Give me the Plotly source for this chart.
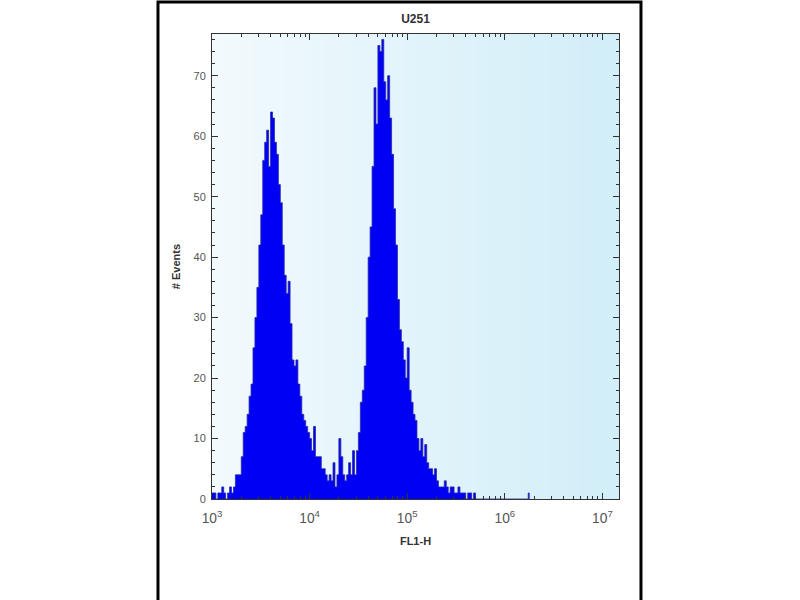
import numpy as np
import plotly.graph_objects as go

# histogram channels: log10(FL1-H) bins of 0.02 decade starting at 10^3
bin_start = 3.0
bin_width = 0.02
counts = [1, 1, 0, 1, 1, 2, 1, 0, 1, 2, 1, 2,
          4, 4, 4, 7, 11, 12, 14, 17, 19, 25, 30, 35, 42, 47, 56, 59, 61, 55,
          64, 63, 59, 57, 52, 49, 42, 37, 34, 36, 29, 23, 22, 23, 19, 17, 14, 13,
          12, 11, 10, 8, 12, 7, 7, 7, 5, 5, 4, 3, 4, 3, 6, 2, 4, 10, 7, 4, 3, 4,
          6, 4, 8, 4, 8, 11, 16, 18, 22, 30, 40, 45, 55, 68, 62, 75, 74, 76, 69,
          66, 70, 63, 57, 48, 42, 33, 28, 26, 23, 20, 25, 18, 16, 14, 13, 10, 8,
          10, 7, 9, 6, 5, 5, 4, 5, 3, 2, 2, 2, 3, 2, 1, 2, 2, 1, 1, 2, 1, 1, 1,
          0, 1, 1, 0, 1]
# a lone event far out
lone_log = [6.24]
lone_count = [1]

title = "U251"
x_title = "FL1-H"
y_title = "# Events"
x_range_log = [3.0, 7.17]
y_range = [0, 76.9]

edges = bin_start + bin_width * np.arange(len(counts) + 1)
xs = list(10 ** edges)
ys = counts + [0]
for lg, c in zip(lone_log, lone_count):
    xs += [10 ** lg, 10 ** lg, 10 ** (lg + bin_width / 2), 10 ** (lg + bin_width / 2)]
    ys += [0, c, c, 0]

fig = go.Figure()

# light blue gradient behind the plot
n_strips = 40
shapes = []
for k in range(n_strips):
    f = k / (n_strips - 1)
    r = int(242 - 32 * f)
    g = int(250 - 12 * f)
    b = int(253 - 4 * f)
    shapes.append(dict(type="rect", xref="paper", yref="paper",
                       x0=k / n_strips, x1=(k + 1) / n_strips + 0.002, y0=0, y1=1,
                       fillcolor=f"rgb({r},{g},{b})", line=dict(width=0), layer="below"))
# outer frame
shapes.append(dict(type="rect", xref="paper", yref="paper",
                   x0=-0.1327, x1=1.054, y0=-0.23, y1=1.069,
                   line=dict(color="black", width=3)))

fig.add_trace(go.Scatter(x=xs, y=ys, mode="lines", line_shape="hv",
                         fill="tozeroy", fillcolor="rgb(0,0,245)",
                         line=dict(color="rgb(40,40,170)", width=0.8),
                         showlegend=False, hoverinfo="skip"))

axis_font = dict(family="Arial, Liberation Sans, sans-serif", size=11, color="#555555")
fig.update_layout(
    width=800, height=600,
    margin=dict(l=212, r=181, t=34, b=101),
    paper_bgcolor="white",
    plot_bgcolor="rgba(0,0,0,0)",
    shapes=shapes,
    title=dict(text="<b>" + title + "</b>", x=0.5194, xanchor="center", y=0.968, yanchor="middle",
               font=dict(family="Arial, Liberation Sans, sans-serif", size=12, color="#333333")),
    xaxis=dict(type="log", range=x_range_log, dtick=1, exponentformat="power",
               showgrid=False, zeroline=False, showline=True, linecolor="#333333", linewidth=1,
               mirror="ticks", ticks="inside", ticklen=6, tickcolor="#333333",
               minor=dict(ticks="inside", ticklen=3, dtick="D1", tickcolor="#333333", showgrid=False),
               tickfont=axis_font, ticklabelstandoff=7,
               title=dict(text="<b>" + x_title + "</b>", standoff=12,
                          font=dict(family="Arial, Liberation Sans, sans-serif", size=11, color="#333333"))),
    yaxis=dict(range=y_range, dtick=10, showgrid=False, zeroline=False, showline=True,
               linecolor="#333333", linewidth=1, mirror="ticks", ticks="inside", ticklen=6,
               tickcolor="#333333",
               minor=dict(ticks="inside", ticklen=3, dtick=2, tickcolor="#333333", showgrid=False),
               tickfont=axis_font, ticklabelstandoff=3,
               title=dict(text="<b>" + y_title + "</b>", standoff=10,
                          font=dict(family="Arial, Liberation Sans, sans-serif", size=11, color="#333333"))),
)

fig.write_html("out.html", config={"displayModeBar": False},
               post_script="document.body.style.margin='0';")
